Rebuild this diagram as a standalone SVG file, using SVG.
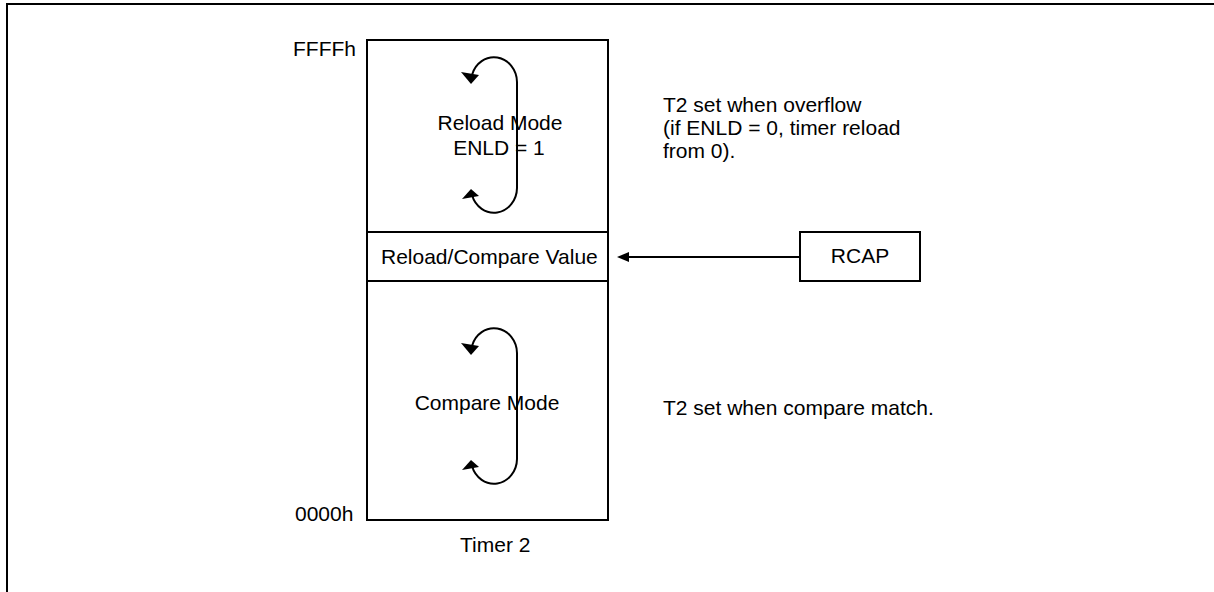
<svg xmlns="http://www.w3.org/2000/svg" width="1214" height="592" viewBox="0 0 1214 592">
<style>
text{font-family:"Liberation Sans",Arial,sans-serif;font-size:21px;fill:#000}
.box{fill:#fff;stroke:#000;stroke-width:2}
.ln{fill:none;stroke:#000;stroke-width:2}
.ah{fill:#000;stroke:none}
</style>
<rect width="1214" height="592" fill="#fff"/>
<g id="frame"><path class="ln" d="M7,592 V4 H1214"/></g>
<g id="timer2">
<rect class="box" x="367" y="40" width="241" height="480"/>
<line class="ln" x1="367" y1="232" x2="608" y2="232"/>
<line class="ln" x1="367" y1="281" x2="608" y2="281"/>
<text x="381" y="264">Reload/Compare Value</text>
<text x="500" y="130" text-anchor="middle">Reload Mode</text>
<text x="499" y="155" text-anchor="middle">ENLD = 1</text>
<text x="487" y="410" text-anchor="middle">Compare Mode</text>
<text x="293" y="56">FFFFh</text>
<text x="295" y="521">0000h</text>
<text x="460" y="552">Timer 2</text>
</g>
<g id="loops">
<path class="ln" d="M472,75 A23,25 0 0 1 517,82 V188 A23,25 0 0 1 472,195"/>
<polygon class="ah" points="461,72 479,75 471,84"/>
<polygon class="ah" points="462,199 471,189 479,196"/>
<path class="ln" d="M472,346 A23,25 0 0 1 517,353 V459 A23,25 0 0 1 472,466"/>
<polygon class="ah" points="461,343 479,346 471,355"/>
<polygon class="ah" points="462,470 471,460 479,467"/>
</g>
<g id="rcap">
<rect class="box" x="800" y="232" width="120" height="49"/>
<text x="860" y="263" text-anchor="middle">RCAP</text>
</g>
<g id="connectors">
<line class="ln" x1="800" y1="257" x2="626" y2="257"/>
<polygon class="ah" points="617,257 629,252 629,262"/>
</g>
<g id="notes">
<text x="663" y="112">T2 set when overflow</text>
<text x="663" y="135">(if ENLD = 0, timer reload</text>
<text x="663" y="158">from 0).</text>
<text x="663" y="415">T2 set when compare match.</text>
</g>
</svg>
